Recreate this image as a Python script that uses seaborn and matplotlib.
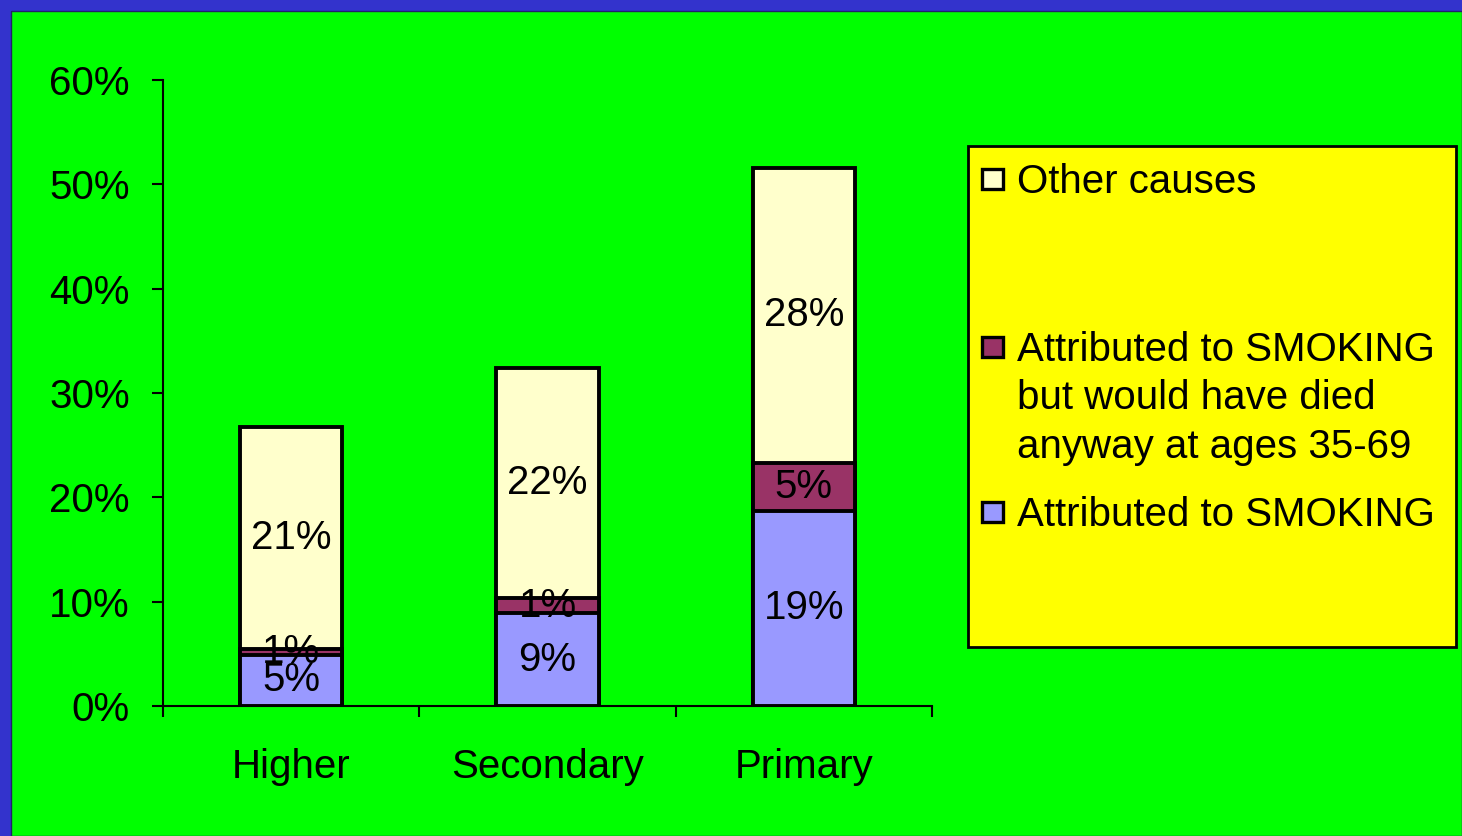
import matplotlib
matplotlib.use("Agg")
import matplotlib.pyplot as plt
from matplotlib.patches import Rectangle
import seaborn as sns
import pandas as pd
import numpy as np

categories = ["Higher", "Secondary", "Primary"]
smoking = [4.9, 8.9, 18.7]
smoking_anyway = [0.6, 1.45, 4.6]
other_causes = [21.2, 22.05, 28.3]
series_names = ["Other causes",
                "Attributed to SMOKING\nbut would have died\nanyway at ages 35-69",
                "Attributed to SMOKING"]
yticks = [0, 10, 20, 30, 40, 50, 60]

C_BLUE = "#9999ff"
C_RED = "#993366"
C_YEL = "#ffffcc"
FS = 29

sns.set_theme(style="white")
plt.rcParams["font.family"] = ["Liberation Sans", "DejaVu Sans"]
for k in ["text.color", "xtick.color", "ytick.color", "axes.labelcolor"]:
    plt.rcParams[k] = "black"

W, H = 1462, 836
fig = plt.figure(figsize=(W / 100, H / 100), dpi=100)
fig.patch.set_facecolor("#3333cc")
fig.add_artist(Rectangle((11 / W, 0), 1 - 11 / W, 1 - 11 / H, transform=fig.transFigure,
                         facecolor="#00ff00", edgecolor="#222266", lw=1, zorder=0))

ax = fig.add_axes([163 / W, 1 - 706 / H, (932 - 163) / W, (706 - 80) / H])
ax.set_facecolor("none")

s1 = np.array(smoking)
s2 = s1 + np.array(smoking_anyway)
s3 = s2 + np.array(other_causes)
df = pd.DataFrame({"cat": categories, "total": s3, "mid": s2, "low": s1})

for col, color in [("total", C_YEL), ("mid", C_RED), ("low", C_BLUE)]:
    sns.barplot(data=df, x="cat", y=col, order=categories, color=color, width=0.4,
                edgecolor="black", linewidth=2.8, saturation=1, ax=ax, zorder=2)

for i in range(len(categories)):
    bottoms = [0, s1[i], s2[i]]
    heights = [smoking[i], smoking_anyway[i], other_causes[i]]
    for b, h in zip(bottoms, heights):
        ax.text(i, b + h / 2, f"{h:.0f}%", ha="center", va="center", fontsize=FS,
                color="black", zorder=5)

ax.set_xlim(-0.5, 2.5)
ax.set_ylim(0, 60)
ax.set_yticks(yticks)
ax.set_yticklabels([f"{v}%" for v in yticks], fontsize=FS)
ax.set_xticks([-0.5, 0.5, 1.5, 2.5])
ax.set_xticklabels([])
ax.set_xticks([0, 1, 2], minor=True)
ax.set_xticklabels(categories, minor=True, fontsize=FS)
ax.tick_params(axis="x", which="major", direction="out", length=8, width=1.5, color="black",
               bottom=True)
ax.tick_params(axis="x", which="minor", length=0, pad=30, bottom=True)
ax.tick_params(axis="y", direction="out", length=8, width=1.5, color="black", pad=16, left=True)
ax.set_xlabel("")
ax.set_ylabel("")
for s in ["top", "right"]:
    ax.spines[s].set_visible(False)
for s in ["left", "bottom"]:
    ax.spines[s].set_color("black")
    ax.spines[s].set_linewidth(1.5)
ax.grid(False)

# legend box
lx0, ly0, lx1, ly1 = 968, 146, 1456, 647
fig.add_artist(Rectangle((lx0 / W, 1 - ly1 / H), (lx1 - lx0) / W, (ly1 - ly0) / H,
                         transform=fig.transFigure, facecolor="#ffff00", edgecolor="black",
                         lw=2, zorder=3))
leg_colors = [C_YEL, C_RED, C_BLUE]
leg_y = [179, 347, 512]
for name, col, y in zip(series_names, leg_colors, leg_y):
    fig.add_artist(Rectangle((982 / W, 1 - (y + 10) / H), 21 / W, 20 / H,
                             transform=fig.transFigure, facecolor=col, edgecolor="black",
                             lw=2.4, zorder=4))
    fig.text(1017 / W, 1 - (y - 16) / H, name, ha="left", va="top", fontsize=FS,
             linespacing=1.35, color="black", zorder=5)

fig.savefig("out.png", dpi=100, facecolor=fig.get_facecolor())
